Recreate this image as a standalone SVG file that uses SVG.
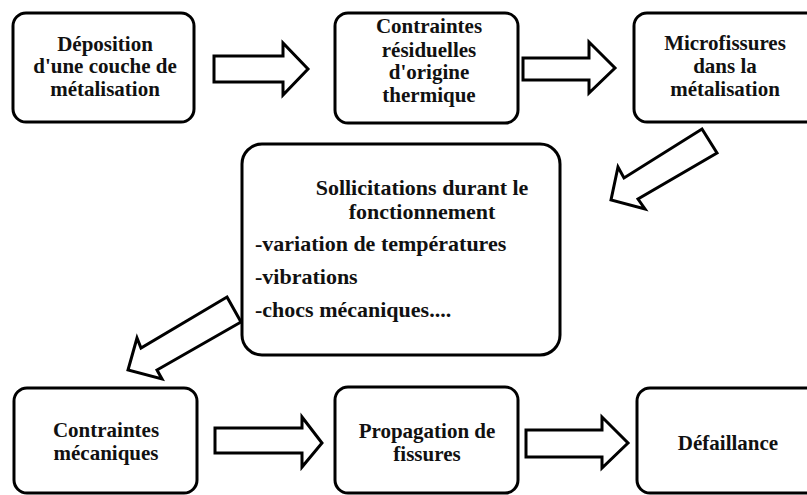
<svg xmlns="http://www.w3.org/2000/svg" width="807" height="495" viewBox="0 0 807 495">
<style>
.box{fill:#fff;stroke:#000;stroke-width:3}
.arr{fill:#fff;stroke:#000;stroke-width:3;stroke-linejoin:miter}
.t{font-family:"Liberation Serif","Times New Roman",serif;font-weight:bold;font-size:21px;fill:#111}
.c{text-anchor:middle}
.big{font-size:22px}
</style>
<rect width="807" height="495" fill="#fff"/>
<g id="n1"><rect class="box" x="13" y="13" width="181" height="109" rx="13"/>
<text class="t c" x="105" y="51">Déposition</text><text class="t c" x="105" y="73">d'une couche de</text><text class="t c" x="105" y="96">métalisation</text></g>
<g id="n2"><rect class="box" x="335" y="13" width="183" height="110" rx="13"/>
<text class="t c" x="429" y="33">Contraintes</text><text class="t c" x="429" y="57">résiduelles</text><text class="t c" x="429" y="79">d'origine</text><text class="t c" x="429" y="102">thermique</text></g>
<g id="n3"><rect class="box" x="634" y="13" width="185" height="109" rx="13"/>
<text class="t c" x="725" y="50">Microfissures</text><text class="t c" x="725" y="73">dans la</text><text class="t c" x="725" y="96">métalisation</text></g>
<g id="n4"><rect class="box" x="242" y="144" width="318" height="211" rx="20"/>
<text class="t c big" x="422" y="195">Sollicitations durant le</text><text class="t c big" x="422" y="219">fonctionnement</text>
<text class="t big" x="255" y="251">-variation de températures</text><text class="t big" x="255" y="284">-vibrations</text><text class="t big" x="255" y="317">-chocs mécaniques....</text></g>
<g id="n5"><rect class="box" x="14" y="388" width="183" height="105" rx="13"/>
<text class="t c" x="106" y="437">Contraintes</text><text class="t c" x="106" y="460">mécaniques</text></g>
<g id="n6"><rect class="box" x="335" y="387" width="183" height="106" rx="13"/>
<text class="t c" x="427" y="438">Propagation de</text><text class="t c" x="427" y="461">fissures</text></g>
<g id="n7"><rect class="box" x="637" y="388" width="185" height="105" rx="13"/>
<text class="t c" x="728" y="450">Défaillance</text></g>
<g id="connectors">
<polygon class="arr" points="214,56 283,56 283,43 308,69 283,95 283,82 214,82"/>
<polygon class="arr" points="523,58 589,58 589,42 615,68 589,93 589,80 523,80"/>
<polygon class="arr" points="702,129 717,153 638,199 645,209 611,200 618,167 624,178"/>
<polygon class="arr" points="227,297 241,322 157,370 162,379 128,370 137,338 141,348"/>
<polygon class="arr" points="215,428 302,428 302,417 322,443 302,467 302,453 215,453"/>
<polygon class="arr" points="526,430 602,430 602,417 628,443 602,468 602,457 526,457"/>
</g>
</svg>
